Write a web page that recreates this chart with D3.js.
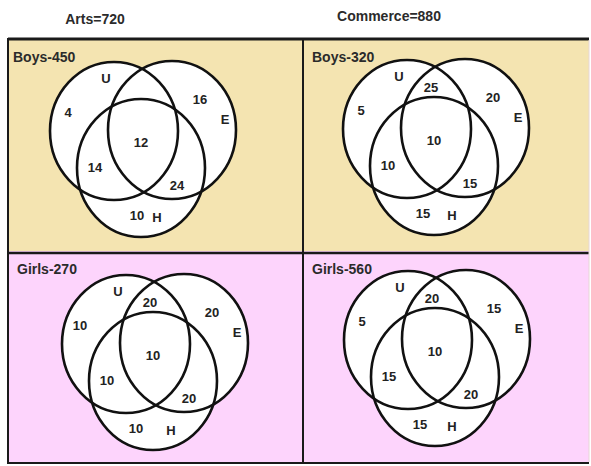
<!DOCTYPE html>
<html>
<head>
<meta charset="utf-8">
<script src="https://cdn.jsdelivr.net/npm/d3@7"></script>
<style>
  body { margin: 0; background: #fff; }
  svg { display: block; font-family: "Liberation Sans", Arial, sans-serif; font-weight: bold; }
</style>
</head>
<body>
<div id="chart"></div>
<script>
// data
var streams = ["Arts=720", "Commerce=880"];
var genders = ["Boys", "Girls"];
var panelNames = ["Boys-450", "Boys-320", "Girls-270", "Girls-560"];
// order: Arts boys, Commerce boys, Arts girls, Commerce girls
var onlyU   = [4, 5, 10, 5];
var onlyE   = [16, 20, 20, 15];
var onlyH   = [10, 15, 10, 15];
var uAndE   = [null, 25, 20, 20];
var uAndH   = [14, 10, 10, 15];
var eAndH   = [24, 15, 20, 20];
var allThree = [12, 10, 10, 10];

var width = 591, height = 466;
var bg = {Boys: "#f4e4b1", Girls: "#fdd4fc"};

var svg = d3.select("#chart").append("svg")
  .attr("width", width).attr("height", height);

// table cells
var colX = d3.scaleOrdinal().domain(streams).range([8, 303]);
var colW = d3.scaleOrdinal().domain(streams).range([295, 286]);
var rowY = d3.scaleBand().domain(genders).range([39, 463]).paddingInner(0);
// offsets within each cell (small per-panel shifts)
var shiftX = [0, -2, 12, -1];
var shiftY = [0, -2, 1, -3];
// per-panel nudge of the "H only" number and the H letter
var hNumShift = [7, 0, -6, -4];
var hLetShift = [-1, 1, 1, 0];

var panels = [];
genders.forEach(function(g, gi){
  streams.forEach(function(s, si){
    var i = gi * 2 + si;
    panels.push({stream: s, gender: g, name: panelNames[i], idx: i,
      vals: {U: onlyU[i], E: onlyE[i], H: onlyH[i], UE: uAndE[i], UH: uAndH[i], EH: eAndH[i], UEH: allThree[i]},
      dx: shiftX[i], dy: shiftY[i]});
  });
});

svg.selectAll("rect.cell").data(panels).enter().append("rect")
  .attr("class", "cell")
  .attr("x", function(d){ return colX(d.stream); })
  .attr("y", function(d){ return rowY(d.gender); })
  .attr("width", function(d){ return colW(d.stream); })
  .attr("height", rowY.bandwidth())
  .attr("fill", function(d){ return bg[d.gender]; });

// stream titles
svg.selectAll("text.stream").data(streams).enter().append("text")
  .attr("x", function(d, i){ return i == 0 ? 95 : 389; })
  .attr("y", function(d, i){ return i == 0 ? 24 : 21; })
  .attr("text-anchor", "middle")
  .attr("font-size", 14)
  .attr("fill", "#2b2b2b")
  .text(function(d){ return d; });

// venn geometry in a local space, one group per panel
var circles = [
  {key: "U", x: 0, y: 0},
  {key: "E", x: 58, y: -1},
  {key: "H", x: 27, y: 37}
];
var labelPos = {
  U: [-46, -19], E: [86, -32], H: [16, 84],
  UE: [24, -42], UH: [-19, 36], EH: [63, 54], UEH: [27, 11]
};
var setNames = [{t: "U", x: -8, y: -53}, {t: "E", x: 111, y: -12}, {t: "H", x: 44, y: 86}];

var g = svg.selectAll("g.panel").data(panels).enter().append("g")
  .attr("transform", function(d){
    return "translate(" + (colX(d.stream) + 106 + d.dx) + "," + (rowY(d.gender) + 92 + d.dy) + ")";
  });

g.selectAll("ellipse.fill").data(circles).enter().append("ellipse")
  .attr("cx", function(c){ return c.x; }).attr("cy", function(c){ return c.y; })
  .attr("rx", 64).attr("ry", 69)
  .attr("fill", "#fff");
g.selectAll("ellipse.line").data(circles).enter().append("ellipse")
  .attr("cx", function(c){ return c.x; }).attr("cy", function(c){ return c.y; })
  .attr("rx", 64).attr("ry", 69)
  .attr("fill", "none").attr("stroke", "#111").attr("stroke-width", 2.6);

g.each(function(d){
  var sel = d3.select(this);
  Object.keys(labelPos).forEach(function(k){
    if (d.vals[k] == null) return;
    var x = labelPos[k][0] + (k == "H" ? hNumShift[d.idx] : 0);
    sel.append("text")
      .attr("x", x).attr("y", labelPos[k][1])
      .attr("dy", "0.35em").attr("text-anchor", "middle")
      .attr("font-size", 13).attr("fill", "#222")
      .text(d.vals[k]);
  });
  setNames.forEach(function(s){
    sel.append("text")
      .attr("x", s.x + (s.t == "H" ? hLetShift[d.idx] : 0)).attr("y", s.y)
      .attr("dy", "0.35em").attr("text-anchor", "middle")
      .attr("font-size", 13).attr("fill", "#222")
      .text(s.t);
  });
});

// panel names
svg.selectAll("text.pname").data(panels).enter().append("text")
  .attr("x", function(d){ return colX(d.stream) + (d.idx == 0 ? 5 : 9); })
  .attr("y", function(d){ return rowY(d.gender) + 23; })
  .attr("font-size", 14).attr("fill", "#2b2b2b")
  .text(function(d){ return d.name; });

// grid lines
var lines = [
  {x1: 8, y1: 39, x2: 589, y2: 39, w: 3},
  {x1: 8, y1: 463, x2: 589, y2: 463, w: 2},
  {x1: 8, y1: 38, x2: 8, y2: 464, w: 2},
  {x1: 303, y1: 38, x2: 303, y2: 464, w: 2},
  {x1: 8, y1: 253, x2: 589, y2: 253, w: 2.5}
];
svg.selectAll("line.grid").data(lines).enter().append("line")
  .attr("x1", function(d){ return d.x1; }).attr("y1", function(d){ return d.y1; })
  .attr("x2", function(d){ return d.x2; }).attr("y2", function(d){ return d.y2; })
  .attr("stroke", "#1a1a1a").attr("stroke-width", function(d){ return d.w; });
svg.append("line").attr("x1", 589).attr("x2", 589).attr("y1", 40).attr("y2", 462)
  .attr("stroke", "#e6d6d6").attr("stroke-width", 1);
</script>
</body>
</html>
